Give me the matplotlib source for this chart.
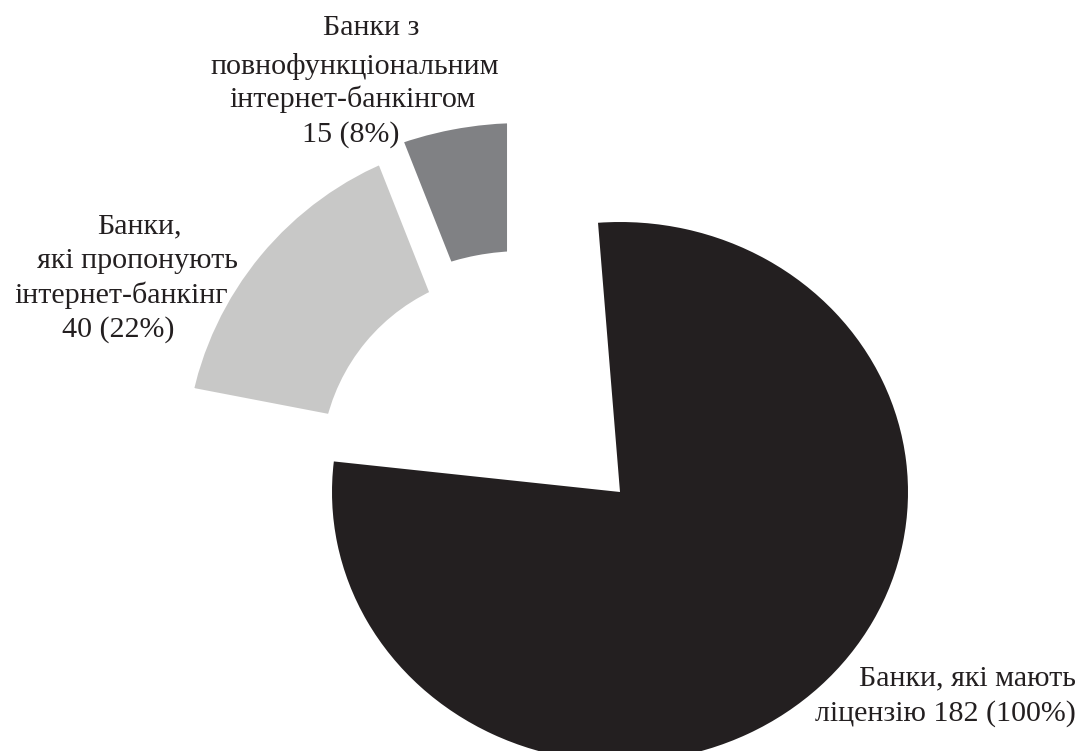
import matplotlib
matplotlib.use("Agg")
import matplotlib.pyplot as plt

# ---- data ----
categories = [
    "Банки, які мають\nліцензію",
    "Банки,\nякі пропонують\nінтернет-банкінг",
    "Банки з\nповнофункціональним\nінтернет-банкінгом",
]
counts = [182, 40, 15]
colors = ["#231f20", "#c8c8c7", "#808184"]

total, internet, full = counts
shares = [round(c / total * 100) for c in counts]

W, H = 1086, 751
plt.rcParams["font.family"] = ["Liberation Serif", "DejaVu Serif"]
fig = plt.figure(figsize=(W / 100, H / 100), dpi=100)

# ---- black pie (slightly flattened, drawn in its own axes) ----
k = 0.9375  # vertical squash of the big pie
axb = fig.add_axes([0, 0, 1, 1])
black_w, _ = axb.pie([total - internet, internet], colors=[colors[0], "none"],
                     startangle=173.5, counterclock=True, radius=288,
                     center=(620, (H - 492) / k), frame=True)
black_w[1].set_visible(False)
axb.set_xlim(0, W)
axb.set_ylim(0, H / k)
axb.set_aspect("auto")
axb.axis("off")

# ---- exploded grey ring: internet banking, split by full / other ----
ax = fig.add_axes([0, 0, 1, 1])
ax.patch.set_visible(False)
light_part = internet * internet / (internet + full)
dark_part = internet * full / (internet + full)
grey_w, _ = ax.pie([dark_part, light_part, total - internet],
                   colors=[colors[2], colors[1], "none"],
                   startangle=90, counterclock=True, radius=346,
                   center=(515, H - 466), frame=True,
                   wedgeprops=dict(width=168, edgecolor="white", linewidth=23))
grey_w[2].set_visible(False)
grey_w[0].set_center((523, H - 500))
grey_w[0].set_radius(393)
grey_w[0].set_width(160)
ax.set_xlim(0, W)
ax.set_ylim(0, H)
ax.set_aspect("auto")
ax.axis("off")

fs = 21.6
tc = "#231f20"

def put_lines(lines, xs, baselines, ha="center"):
    for s, x, b in zip(lines, xs, baselines):
        ax.text(x, H - b, s, ha=ha, va="baseline", fontsize=fs, color=tc)

top_lines = categories[2].split("\n") + [f"{full} ({shares[2]}%)"]
put_lines(top_lines, [371, 355, 352, 351], [35, 74, 107, 142])

left_lines = categories[1].split("\n") + [f"{internet} ({shares[1]}%)"]
put_lines(left_lines, [139, 137, 121, 118], [233, 268, 303, 337])

br = categories[0].split("\n")
br_lines = [br[0], f"{br[1]} {total} ({shares[0]}%)"]
put_lines(br_lines, [1076, 1076], [685, 721], ha="right")

fig.savefig("out.png", dpi=100)
